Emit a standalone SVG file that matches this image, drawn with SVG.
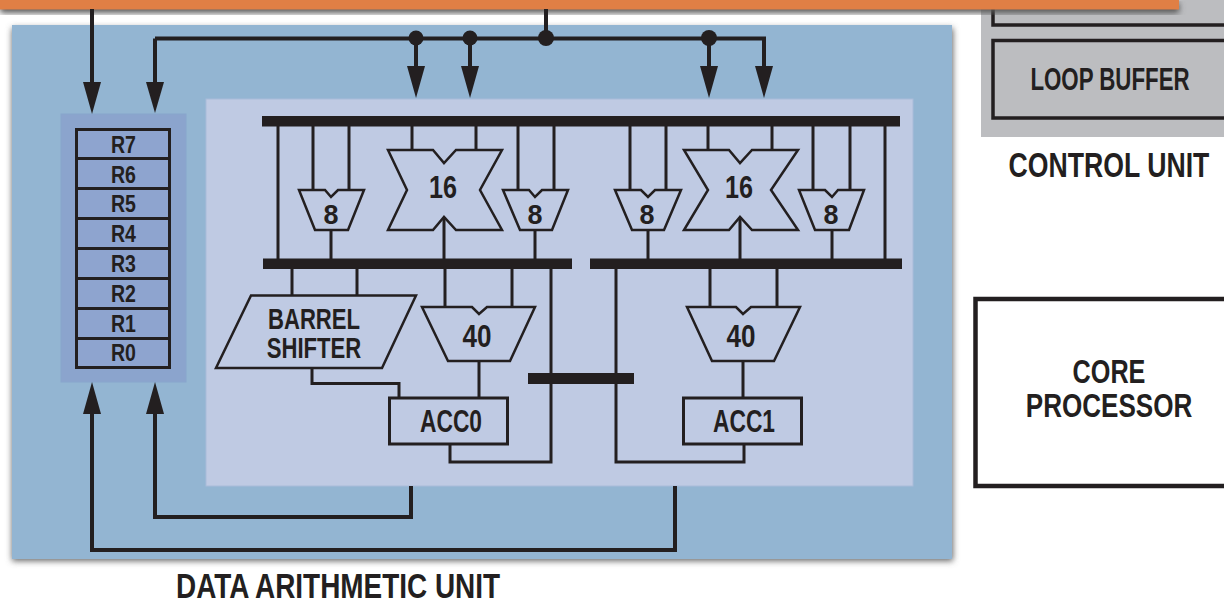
<svg xmlns="http://www.w3.org/2000/svg" width="1224" height="601" viewBox="0 0 1224 601">
<style>
.t{font-family:"Liberation Sans",Arial,sans-serif;font-weight:700;fill:#231f20;text-anchor:middle}
.s{font-size:31px}.n{font-size:29px}.d{font-size:27px}.m{font-size:31px}.l{font-size:35px}.k{font-size:33px}.r{font-size:24px}
.w{fill:none;stroke:#231f20;stroke-width:3;stroke-linejoin:miter}
.a{fill:none;stroke:#231f20;stroke-width:4}
.b{fill:#231f20}
.p{fill:#bfcae3;stroke:#231f20;stroke-width:2.5}
.c{fill:#8ea4cf;stroke:#231f20;stroke-width:3}
.h{stroke:#231f20;stroke-width:3.5;fill:#bcbdc0}
</style>
<defs>
<filter id="sh" x="-5%" y="-20%" width="110%" height="140%"><feGaussianBlur stdDeviation="3"/></filter>
<marker id="ah" markerUnits="userSpaceOnUse" markerWidth="32" markerHeight="18" refX="0" refY="9" orient="auto" viewBox="0 0 32 18"><path d="M0 0L32 9L0 18Z" fill="#231f20"/></marker>
</defs>
<rect width="1224" height="601" fill="#fff"/>

<g id="control-unit">
<rect x="981" y="0" width="243" height="137" fill="#bcbdc0"/>
<path class="h" d="M1224 25H993V0"/>
</g>
<g id="loop-buffer">
<path class="h" d="M1224 40.500H993V118H1224"/>
<text class="t m" transform="translate(1110 90) scale(.8 1)" textLength="199" lengthAdjust="spacingAndGlyphs">LOOP BUFFER</text>
</g>
<text class="t l" transform="translate(1109 177) scale(.8 1)" textLength="251" lengthAdjust="spacingAndGlyphs">CONTROL UNIT</text>

<g id="core-processor">
<path d="M1224 299H975.500V486H1224" fill="#fff" stroke="#231f20" stroke-width="4.500"/>
<text class="t k" transform="translate(1109 383) scale(.8 1)" textLength="91" lengthAdjust="spacingAndGlyphs">CORE</text>
<text class="t k" transform="translate(1109 417) scale(.8 1)" textLength="208" lengthAdjust="spacingAndGlyphs">PROCESSOR</text>
</g>

<g id="top-bar">
<rect x="0" y="3" width="1179" height="10" fill="#555" filter="url(#sh)"/>
<rect x="0" y="0" width="1179" height="9.500" fill="#e07f45"/>
</g>

<g id="data-arithmetic-unit">
<rect x="12" y="28" width="941" height="533" fill="#666" filter="url(#sh)"/>
<rect x="12" y="25" width="940" height="534" fill="#93b5d2"/>
<rect x="206" y="99" width="707" height="387" fill="#bfcae3" stroke="#a9bcd9" stroke-width="1"/>
</g>
<text class="t l" transform="translate(338 598) scale(.8 1)" textLength="405" lengthAdjust="spacingAndGlyphs">DATA ARITHMETIC UNIT</text>

<g id="registers">
<rect x="61" y="114" width="125" height="268" fill="#8ba4cd" stroke="#88a6cc" stroke-width="1"/>
<rect class="c" x="76.500" y="129.500" width="93" height="29"/>
<rect class="c" x="76.500" y="158.500" width="93" height="30"/>
<rect class="c" x="76.500" y="188.500" width="93" height="30"/>
<rect class="c" x="76.500" y="218.500" width="93" height="30"/>
<rect class="c" x="76.500" y="248.500" width="93" height="30"/>
<rect class="c" x="76.500" y="278.500" width="93" height="30"/>
<rect class="c" x="76.500" y="308.500" width="93" height="30"/>
<rect class="c" x="76.500" y="338.500" width="93" height="29"/>
<text class="t r" x="123.500" y="153" textLength="25" lengthAdjust="spacingAndGlyphs">R7</text>
<text class="t r" x="123.500" y="183" textLength="25" lengthAdjust="spacingAndGlyphs">R6</text>
<text class="t r" x="123.500" y="212" textLength="25" lengthAdjust="spacingAndGlyphs">R5</text>
<text class="t r" x="123.500" y="242" textLength="25" lengthAdjust="spacingAndGlyphs">R4</text>
<text class="t r" x="123.500" y="272" textLength="25" lengthAdjust="spacingAndGlyphs">R3</text>
<text class="t r" x="123.500" y="302" textLength="25" lengthAdjust="spacingAndGlyphs">R2</text>
<text class="t r" x="123.500" y="332" textLength="25" lengthAdjust="spacingAndGlyphs">R1</text>
<text class="t r" x="123.500" y="361" textLength="25" lengthAdjust="spacingAndGlyphs">R0</text>
</g>

<g id="connectors">
<path class="a" d="M92 9V82" marker-end="url(#ah)"/>
<path class="a" d="M155 82V38.500" />
<path class="a" d="M155 38.500H764V66" marker-end="url(#ah)"/>
<path d="M146 82L155 113L164 82Z" class="b"/>
<path class="a" d="M416 38V66" marker-end="url(#ah)"/>
<path class="a" d="M470 38V66" marker-end="url(#ah)"/>
<path class="a" d="M709 38V66" marker-end="url(#ah)"/>
<path class="a" d="M546 9V38"/>
<circle class="b" cx="416" cy="38" r="7.500"/>
<circle class="b" cx="470" cy="38" r="7.500"/>
<circle class="b" cx="546" cy="38" r="8"/>
<circle class="b" cx="709" cy="38" r="8"/>
<path class="a" d="M411 486V517H155V414" marker-end="url(#ah)"/>
<path class="a" d="M675 486V550H92V414" marker-end="url(#ah)"/>
<path class="w" d="M278 126V259M313 126V190M349 126V190M331 230V259M412 126V151M476 126V151M444 217V259M518 126V190M554 126V190M535 230V259"/>
<path class="w" d="M630 126V190M666 126V190M648 230V259M708 126V151M772 126V151M740 217V259M813 126V190M850 126V190M832 230V259M885 126V259"/>
<path class="w" d="M292 269V296M357 269V296M445 269V308M512 269V308M479 361V398M312 368V383.500H399V398M450 444V462H551V269"/>
<path class="w" d="M616 269V462H744V444M710 269V308M777 269V308M743 361V398"/>
<rect class="b" x="262" y="116" width="638" height="10.500"/>
<rect class="b" x="263" y="258.500" width="309" height="10.500"/>
<rect class="b" x="590" y="258.500" width="312" height="10.500"/>
<rect class="b" x="528" y="373" width="106" height="11"/>
</g>

<g id="mux-8-a"><path class="p" d="M299 190H325L331 197L338 190H364L348 230H315Z"/><text class="t d" x="331" y="224" textLength="15" lengthAdjust="spacingAndGlyphs">8</text></g>
<g id="mult-16-a"><path class="p" d="M388 150H433L444 163L456 150H502L480 190L502 230H456L444 217L433 230H388L407 190Z"/><text class="t s" x="443" y="198" textLength="28" lengthAdjust="spacingAndGlyphs">16</text></g>
<g id="mux-8-b"><path class="p" d="M503 190H529L535 197L542 190H568L552 230H520Z"/><text class="t d" x="535" y="224" textLength="15" lengthAdjust="spacingAndGlyphs">8</text></g>
<g id="mux-8-c"><path class="p" d="M615 190H641L648 197L655 190H681L664 230H632Z"/><text class="t d" x="647" y="224" textLength="15" lengthAdjust="spacingAndGlyphs">8</text></g>
<g id="mult-16-b"><path class="p" d="M684 150H729L740 163L752 150H798L771 190L798 230H752L740 217L729 230H684L708 190Z"/><text class="t s" x="739" y="198" textLength="28" lengthAdjust="spacingAndGlyphs">16</text></g>
<g id="mux-8-d"><path class="p" d="M799 190H825L832 197L838 190H864L849 230H815Z"/><text class="t d" x="831" y="224" textLength="15" lengthAdjust="spacingAndGlyphs">8</text></g>

<g id="barrel-shifter"><path class="p" d="M251 295.500H416L382 368H216Z"/>
<text class="t n" transform="translate(314 329) scale(.8 1)" textLength="115" lengthAdjust="spacingAndGlyphs">BARREL</text>
<text class="t n" transform="translate(314 358) scale(.8 1)" textLength="118" lengthAdjust="spacingAndGlyphs">SHIFTER</text></g>
<g id="alu-40-a"><path class="p" d="M422 307H472L479 314L487 307H535L510 361H448Z"/><text class="t s" x="477" y="347" textLength="29" lengthAdjust="spacingAndGlyphs">40</text></g>
<g id="alu-40-b"><path class="p" d="M687 307H736L743 314L751 307H800L774 361H712Z"/><text class="t s" x="741" y="347" textLength="29" lengthAdjust="spacingAndGlyphs">40</text></g>
<g id="acc0"><rect x="389.500" y="398" width="118" height="46" fill="#bfcae3" stroke="#231f20" stroke-width="3"/><text class="t s" x="451" y="432" textLength="62" lengthAdjust="spacingAndGlyphs">ACC0</text></g>
<g id="acc1"><rect x="683.500" y="398" width="118" height="46" fill="#bfcae3" stroke="#231f20" stroke-width="3"/><text class="t s" x="744" y="432" textLength="62" lengthAdjust="spacingAndGlyphs">ACC1</text></g>
</svg>
